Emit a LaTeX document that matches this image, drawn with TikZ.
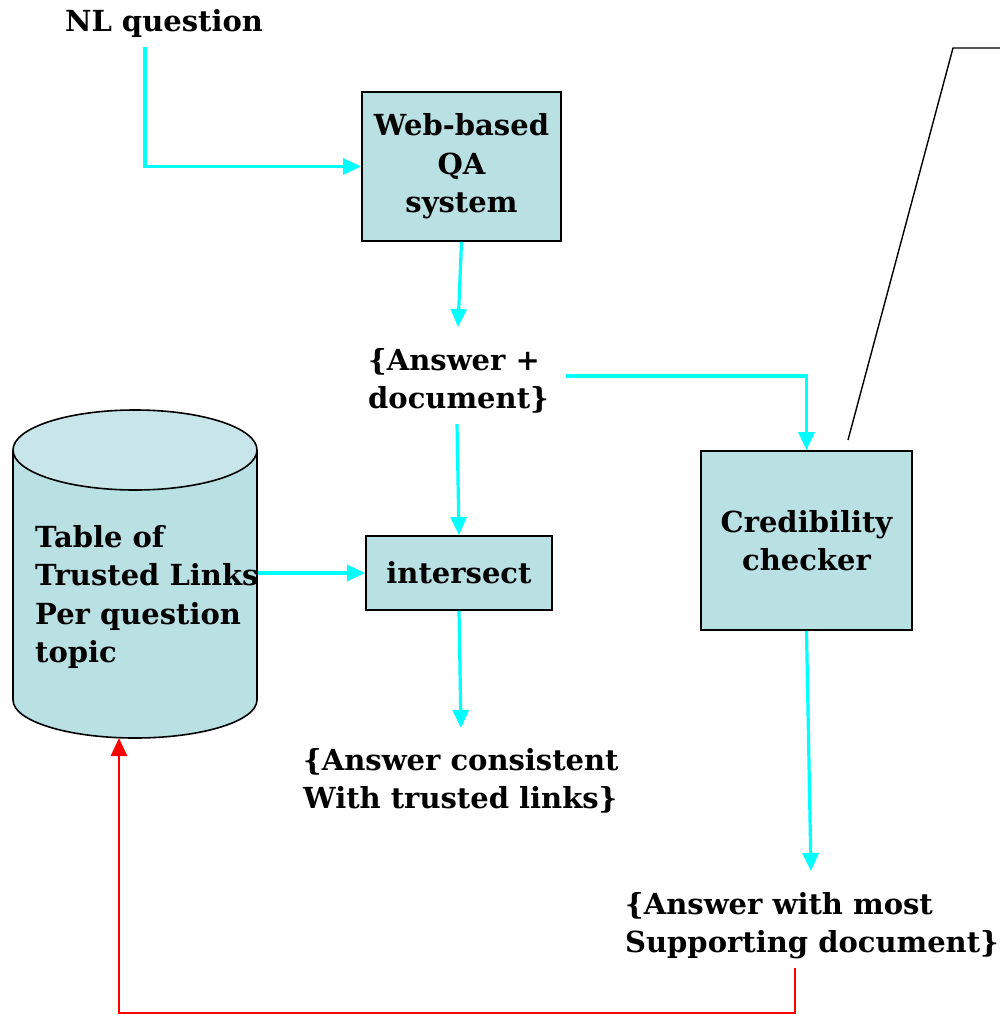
\documentclass[tikz,border=0pt]{standalone}
\usepackage{fontspec}
\setmainfont{DejaVu Serif}
\usetikzlibrary{arrows.meta}
\definecolor{boxfill}{HTML}{B9E0E3}
\definecolor{capfill}{HTML}{C8E6E9}
\definecolor{flow}{HTML}{00FFFF}
\definecolor{feedback}{HTML}{FF0000}
\begin{document}
\begin{tikzpicture}[x=1pt,y=-1pt,
  every node/.style={font=\fontsize{29}{38.5}\selectfont\bfseries},
  procbox/.style={draw=black,line width=1.8pt,fill=boxfill,align=center,inner sep=0pt},
  label/.style={align=left,inner sep=0pt,anchor=north west},
  flowline/.style={draw=flow,line width=3.2pt,-{Triangle[length=18pt,width=16pt]}},
  backline/.style={draw=feedback,line width=2.8pt,-{Triangle[length=18pt,width=16pt]}}]
\useasboundingbox (0,0) rectangle (1000,1015);

% database cylinder
\path[fill=boxfill,draw=black,line width=1.6pt]
  (13,450) -- (13,700) arc[start angle=180,end angle=0,x radius=122,y radius=38]
  -- (257,450);
\path[fill=capfill,draw=black,line width=1.6pt]
  (135,450) ellipse[x radius=122,y radius=40];
\coordinate (tableE) at (258,573);
\coordinate (tableS) at (119,738);
\node[label] (table) at (35,525) {Table of\\Trusted Links\\Per question\\topic};

% process boxes
\node[procbox,minimum width=199,minimum height=149] (qa) at (461.5,166.5) {Web-based\\QA\\system};
\node[procbox,minimum width=186,minimum height=74] (inter) at (459,573) {intersect};
\node[procbox,minimum width=211,minimum height=179] (cred) at (806.5,540.5) {Credibility\\checker};

% free-standing texts
\node[inner sep=0pt] (nlq) at (164,23) {NL question};
\node[label] (ansdoc) at (368,348) {\{Answer +\\document\}};
\node[label] (cons) at (303,748) {\{Answer consistent\\With trusted links\}};
\node[label] (most) at (625,892) {\{Answer with most\\Supporting document\}};

% connector ends
\coordinate (nlqS) at (145,47);
\coordinate (ansdocS) at (457,424);
\coordinate (ansdocE) at (566,376);
\coordinate (mostS) at (795,968);
\coordinate (credNote) at (848,440);

% flow connectors
\draw[flowline] (nlqS) |- (qa.west);
\draw[flowline] (qa.south) -- (458,327);
\draw[flowline] (ansdocE) -| (cred.north);
\draw[flowline] (ansdocS) -- (inter.north);
\draw[flowline] (tableE) -- (inter.west);
\draw[flowline] (inter.south) -- (461,728);
\draw[flowline] (cred.south) -- (811,871);

% feedback loop
\draw[backline] (mostS) -- (795,1013) -- (119,1013) -- (tableS);

% callout leader
\draw[black,line width=1.4pt] (credNote) -- (953,48) -- (1000,48);
\end{tikzpicture}
\end{document}
